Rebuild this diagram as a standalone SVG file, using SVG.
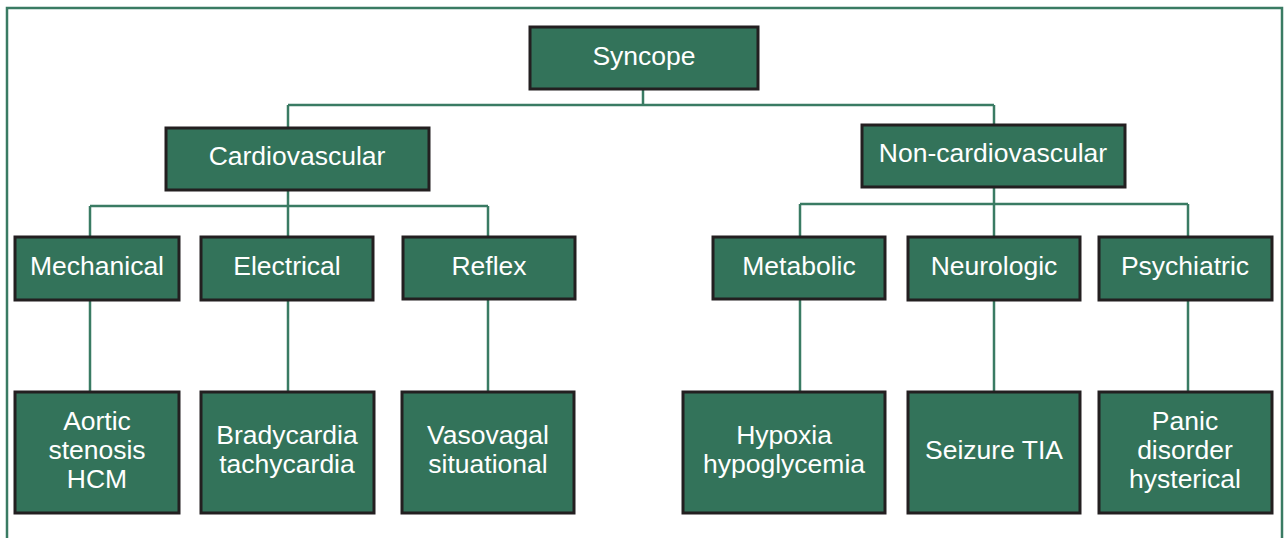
<svg xmlns="http://www.w3.org/2000/svg" width="1284" height="538" viewBox="0 0 1284 538">
<style>
.box{fill:#33735a;stroke:#231f20;stroke-width:3}
.t{font-family:"Liberation Sans",Arial,sans-serif;font-size:26.5px;fill:#ffffff;text-anchor:middle}
.c{fill:none;stroke:#3a7b63;stroke-width:2.5}
</style>
<rect x="7" y="8" width="1275" height="580" fill="none" stroke="#3a7b63" stroke-width="2.5"/>
<g id="connectors" class="c">
<path d="M643 90V105M288 105H994M288 105V127M994 105V124"/>
<path d="M288 190V206M90 206H488M90 206V236M288 206V236M488 206V236"/>
<path d="M994 187V204M800 204H1188M800 204V236M994 204V236M1188 204V236"/>
<path d="M90 300V391M288 300V391M488 300V391M800 300V391M994 300V391M1188 300V391"/>
</g>
<g id="syncope"><rect class="box" x="530" y="27" width="228" height="62"/><text class="t" x="644" y="65">Syncope</text></g>
<g id="cardiovascular"><rect class="box" x="166" y="128" width="263" height="62"/><text class="t" x="297" y="165">Cardiovascular</text></g>
<g id="noncardiovascular"><rect class="box" x="862" y="125" width="263" height="62"/><text class="t" x="993" y="162">Non-cardiovascular</text></g>
<g id="mechanical"><rect class="box" x="15" y="237" width="164" height="63"/><text class="t" x="97" y="275">Mechanical</text></g>
<g id="electrical"><rect class="box" x="201" y="237" width="172" height="63"/><text class="t" x="287" y="275">Electrical</text></g>
<g id="reflex"><rect class="box" x="403" y="237" width="172" height="62"/><text class="t" x="489" y="275">Reflex</text></g>
<g id="metabolic"><rect class="box" x="713" y="237" width="172" height="62"/><text class="t" x="799" y="275">Metabolic</text></g>
<g id="neurologic"><rect class="box" x="908" y="237" width="172" height="63"/><text class="t" x="994" y="275">Neurologic</text></g>
<g id="psychiatric"><rect class="box" x="1099" y="237" width="173" height="63"/><text class="t" x="1185" y="275">Psychiatric</text></g>
<g id="aortic"><rect class="box" x="15" y="392" width="164" height="121"/><text class="t" x="97" y="430">Aortic</text><text class="t" x="97" y="459">stenosis</text><text class="t" x="97" y="488">HCM</text></g>
<g id="bradycardia"><rect class="box" x="201" y="392" width="173" height="121"/><text class="t" x="287" y="444">Bradycardia</text><text class="t" x="287" y="473">tachycardia</text></g>
<g id="vasovagal"><rect class="box" x="402" y="392" width="172" height="121"/><text class="t" x="488" y="444">Vasovagal</text><text class="t" x="488" y="473">situational</text></g>
<g id="hypoxia"><rect class="box" x="683" y="392" width="202" height="121"/><text class="t" x="784" y="444">Hypoxia</text><text class="t" x="784" y="473">hypoglycemia</text></g>
<g id="seizure"><rect class="box" x="908" y="392" width="172" height="121"/><text class="t" x="994" y="459">Seizure TIA</text></g>
<g id="panic"><rect class="box" x="1099" y="392" width="173" height="121"/><text class="t" x="1185" y="430">Panic</text><text class="t" x="1185" y="459">disorder</text><text class="t" x="1185" y="488">hysterical</text></g>
</svg>
